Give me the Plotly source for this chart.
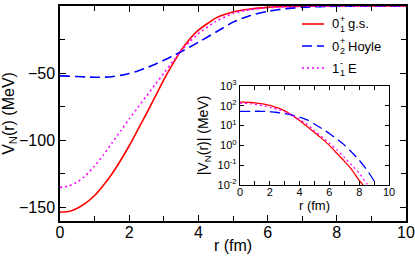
import numpy as np
import plotly.graph_objects as go

r = [0.0, 0.25, 0.5, 0.75, 1.0, 1.25, 1.5, 1.75, 2.0, 2.25, 2.5, 2.75, 3.0, 3.25, 3.5, 3.75, 4.0,
     4.5, 5.0, 5.5, 6.0, 6.5, 7.0, 7.5, 8.0, 8.5, 9.0, 9.5, 10.0]
v_gs = [-153.5, -153, -150.5, -146.5, -141, -133.5, -125, -115, -104, -92, -80, -67.5, -55, -43.5, -33, -24.5, -18,
        -9, -4.5, -2.2, -1.0, -0.4, -0.16, -0.06, -0.017, -0.006, -0.0017, -0.0004, -0.0001]
v_hoyle = [-52, -52.2, -52.5, -52.8, -53, -53, -52.6, -51.6, -50.2, -48.3, -46, -43.3, -40.4, -37.3, -34, -30.5, -27,
           -19.5, -12, -7, -4, -2.1, -1.05, -0.45, -0.18, -0.06, -0.016, -0.0035, -0.0007]
v_e = [-135, -134, -131, -126, -119, -111, -102, -93, -84, -75.5, -67, -58.5, -50, -41.5, -33.5, -26.5, -20.5,
       -11.5, -5.5, -2.7, -1.3, -0.6, -0.25, -0.1, -0.04, -0.012, -0.004, -0.0012, -0.0004]

colors = ["#ff0000", "#0000ff", "#ff00ff"]
dashes = ["solid", "10px,5px", "2px,3px"]
series = [v_gs, v_hoyle, v_e]
trace_names = ["0+1 g.s.", "0+2 Hoyle", "1-1 E"]

W, H = 415, 257
L, R, T, B = 60, 9, 6, 36
pw, ph = W - L - R, H - T - B

def px(x):
    return (x - L) / pw

def py(y):
    return (H - B - y) / ph

fig = go.Figure()
for vals, c, d, n in zip(series, colors, dashes, trace_names):
    fig.add_trace(go.Scatter(x=r, y=vals, mode="lines", name=n, showlegend=False,
                             line=dict(color=c, dash=d, width=1.6, shape="spline", smoothing=0.5),
                             xaxis="x", yaxis="y"))
for vals, c, d, n in zip(series, colors, dashes, trace_names):
    fig.add_trace(go.Scatter(x=r, y=np.abs(np.array(vals)), mode="lines", name=n, showlegend=False,
                             line=dict(color=c, dash=d, width=1.3, shape="spline", smoothing=0.5),
                             xaxis="x2", yaxis="y2"))

font = "Liberation Sans, Arial, sans-serif"
axcommon = dict(showline=True, linecolor="black", linewidth=1.5, mirror="ticks",
                ticks="inside", tickcolor="black", showgrid=False, zeroline=False, automargin=False)

fig.update_layout(
    width=W, height=H, margin=dict(l=L, r=R, t=T, b=B, autoexpand=False),
    paper_bgcolor="white", plot_bgcolor="white",
    font=dict(family=font, color="black"),
    xaxis=dict(range=[0, 10], dtick=2, ticklen=6, tickwidth=1.2, ticklabelstandoff=-4,
               minor=dict(ticks="inside", dtick=1, ticklen=5, tickcolor="black", tickwidth=1.2),
               tickfont=dict(size=16), title=dict(text="r (fm)", font=dict(size=16), standoff=0),
               domain=[0, 1], **axcommon),
    yaxis=dict(range=[-160, 0], tickvals=[-150, -100, -50, 0], ticklen=6, tickwidth=1.2,
               minor=dict(ticks="inside", dtick=25, ticklen=5, tickcolor="black", tickwidth=1.2),
               tickfont=dict(size=16), title=dict(text="V<sub>N</sub>(r) (MeV)", font=dict(size=16), standoff=4),
               domain=[0, 1], **axcommon),
    xaxis2=dict(range=[0, 10], dtick=2, ticklen=4, tickwidth=1, ticklabelstandoff=-3,
                minor=dict(ticks="inside", dtick=1, ticklen=4, tickcolor="black", tickwidth=1),
                tickfont=dict(size=11), title=dict(text="r (fm)", font=dict(size=13), standoff=0),
                domain=[px(240), px(389)], anchor="y2",
                showline=True, linecolor="black", linewidth=1.3, mirror="ticks", automargin=False,
                ticks="inside", tickcolor="black", showgrid=False, zeroline=False),
    yaxis2=dict(type="log", range=[-2, 3],
                tickvals=[0.01, 0.1, 1, 10, 100, 1000],
                ticktext=["10<sup>-2</sup>", "10<sup>-1</sup>", "10<sup>0</sup>", "10<sup>1</sup>", "10<sup>2</sup>", "10<sup>3</sup>"],
                ticklen=4, tickwidth=1, tickfont=dict(size=11),
                title=dict(text="|V<sub>N</sub>(r)| (MeV)", font=dict(size=14), standoff=5),
                domain=[py(185), py(86)], anchor="x2",
                showline=True, linecolor="black", linewidth=1.3, mirror="ticks", automargin=False,
                ticks="inside", tickcolor="black", showgrid=False, zeroline=False),
)

# custom legend (stacked super/subscripts as in the reference)
leg_rows = [24, 46, 68]
labels = [("0", "+", "1", "g.s."), ("0", "+", "2", "Hoyle"), ("1", "-", "1", "E")]
for yrow, c, d, (base, sup, sub, txt) in zip(leg_rows, colors, dashes, labels):
    fig.add_shape(type="line", xref="paper", yref="paper", x0=px(302), x1=px(324),
                  y0=py(yrow), y1=py(yrow), line=dict(color=c, dash=d, width=1.6))
    fig.add_annotation(xref="paper", yref="paper", x=px(330), y=py(yrow), text=base,
                       showarrow=False, xanchor="left", yanchor="middle", font=dict(size=13))
    fig.add_annotation(xref="paper", yref="paper", x=px(337.5), y=py(yrow - 5), text=sup,
                       showarrow=False, xanchor="left", yanchor="middle", font=dict(size=9))
    fig.add_annotation(xref="paper", yref="paper", x=px(337.5), y=py(yrow + 5), text=sub,
                       showarrow=False, xanchor="left", yanchor="middle", font=dict(size=9))
    fig.add_annotation(xref="paper", yref="paper", x=px(346), y=py(yrow), text=txt,
                       showarrow=False, xanchor="left", yanchor="middle", font=dict(size=13))

fig.write_html("out.html", config={"displayModeBar": False},
               post_script="document.body.style.margin='0';document.body.style.overflow='hidden';")
